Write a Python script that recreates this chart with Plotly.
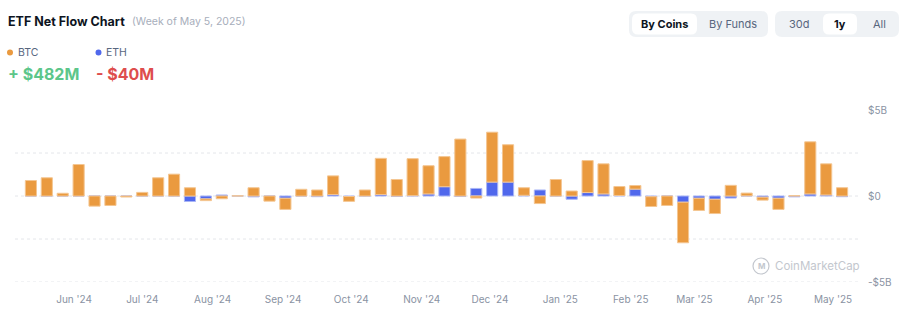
import plotly.graph_objects as go

# ---------------- data ----------------
weeks = [
    "2024-05-13", "2024-05-20", "2024-05-27", "2024-06-03", "2024-06-10", "2024-06-17",
    "2024-06-24", "2024-07-01", "2024-07-08", "2024-07-15", "2024-07-22", "2024-07-29",
    "2024-08-05", "2024-08-12", "2024-08-19", "2024-08-26", "2024-09-02", "2024-09-09",
    "2024-09-16", "2024-09-23", "2024-09-30", "2024-10-07", "2024-10-14", "2024-10-21",
    "2024-10-28", "2024-11-04", "2024-11-11", "2024-11-18", "2024-11-25", "2024-12-02",
    "2024-12-09", "2024-12-16", "2024-12-23", "2024-12-30", "2025-01-06", "2025-01-13",
    "2025-01-20", "2025-01-27", "2025-02-03", "2025-02-10", "2025-02-17", "2025-02-24",
    "2025-03-03", "2025-03-10", "2025-03-17", "2025-03-24", "2025-03-31", "2025-04-07",
    "2025-04-14", "2025-04-21", "2025-04-28", "2025-05-05",
]
# weekly net flows, billions USD
btc_flow = [
    0.90, 1.06, 0.16, 1.83, -0.59, -0.55, -0.06, 0.21, 1.06, 1.27, 0.48, -0.10,
    -0.16, 0.01, 0.48, -0.30, -0.65, 0.39, 0.35, 1.09, -0.28, 0.35, 2.11, 0.96,
    2.15, 1.64, 1.75, 3.31, -0.12, 2.90, 2.17, 0.44, -0.44, 0.96, 0.29, 1.86,
    1.75, 0.52, 0.21, -0.57, -0.55, -2.36, -0.71, -0.83, 0.62, 0.16, -0.17, -0.65,
    0.02, 3.03, 1.81, 0.482,
]
eth_flow = [
    0, 0, 0, 0, 0, 0, 0, 0, 0, 0, -0.32, -0.17,
    0.06, 0, -0.05, 0, -0.13, 0, -0.04, 0.08, -0.03, 0, 0.08, -0.03,
    0.02, 0.12, 0.54, -0.03, 0.44, 0.81, 0.81, 0.04, 0.35, 0, -0.19, 0.20,
    0.12, 0.03, 0.40, -0.04, 0, -0.36, -0.13, -0.19, -0.12, 0.01, -0.07, -0.13,
    -0.05, 0.12, 0.06, -0.04,
]
month_ticks = ["2024-06-01", "2024-07-01", "2024-08-01", "2024-09-01", "2024-10-01",
               "2024-11-01", "2024-12-01", "2025-01-01", "2025-02-01", "2025-03-01",
               "2025-04-01", "2025-05-01"]
y_tickvals = [-5, 0, 5]
y_ticktext = ["-$5B", "$0", "$5B"]
grid_levels = [-5, -2.5, 0, 2.5]

ORANGE = "#EA9A3F"
ORANGE_EDGE = "#F4C692"
BLUE = "#5068EC"
BLUE_EDGE = "#A9B5F6"
FONT = "Inter"

W, H = 910, 323
L, R, T, B = 15, 858, 110, 282


def px(x):
    return (x - L) / (R - L)


def py(y):
    return (B - y) / (B - T)


def rrect(x0, y0, x1, y1, r):
    pts = [("M", [(x0 + r, y0)]), ("L", [(x1 - r, y0)]), ("Q", [(x1, y0), (x1, y0 + r)]),
           ("L", [(x1, y1 - r)]), ("Q", [(x1, y1), (x1 - r, y1)]), ("L", [(x0 + r, y1)]),
           ("Q", [(x0, y1), (x0, y1 - r)]), ("L", [(x0, y0 + r)]), ("Q", [(x0, y0), (x0 + r, y0)])]
    s = ""
    for cmd, ps in pts:
        s += cmd + " " + " ".join(f"{px(a):.5f},{py(b):.5f}" for a, b in ps) + " "
    return s + "Z"


bar_w = 4.9 * 86400000

fig = go.Figure()
fig.add_trace(go.Bar(x=weeks, y=eth_flow, name="ETH", width=bar_w,
                     marker=dict(color=BLUE, line=dict(color=BLUE_EDGE, width=1))))
fig.add_trace(go.Bar(x=weeks, y=btc_flow, name="BTC", width=bar_w,
                     marker=dict(color=ORANGE, line=dict(color=ORANGE_EDGE, width=1))))

shapes = []
for g in grid_levels:
    shapes.append(dict(type="line", xref="paper", yref="y", x0=0, x1=1, y0=g, y1=g,
                       line=dict(color="#E4E6EA", width=1, dash="dot"), layer="below"))

# buttons
shapes.append(dict(type="path", xref="paper", yref="paper", path=rrect(629, 11, 768, 37, 7),
                   fillcolor="#EFF2F5", line=dict(width=0)))
shapes.append(dict(type="path", xref="paper", yref="paper", path=rrect(632, 13.5, 697, 34.5, 6),
                   fillcolor="#FFFFFF", line=dict(width=0)))
shapes.append(dict(type="path", xref="paper", yref="paper", path=rrect(775, 11, 899, 37, 7),
                   fillcolor="#EFF2F5", line=dict(width=0)))
shapes.append(dict(type="path", xref="paper", yref="paper", path=rrect(823, 13.5, 857, 34.5, 6),
                   fillcolor="#FFFFFF", line=dict(width=0)))
# legend dots
for cx, col in [(10, ORANGE), (98.5, BLUE)]:
    shapes.append(dict(type="circle", xref="paper", yref="paper",
                       x0=px(cx - 3), x1=px(cx + 3), y0=py(52.5 + 3), y1=py(52.5 - 3),
                       fillcolor=col, line=dict(width=0)))
# watermark logo circle
shapes.append(dict(type="circle", xref="paper", yref="paper",
                   x0=px(753), x1=px(769), y0=py(274), y1=py(258),
                   fillcolor="rgba(0,0,0,0)", line=dict(color="#C3C7CE", width=1.2)))

ann = []


def text(x, y, s, size, color, anchor="left", bold=False):
    ann.append(dict(xref="paper", yref="paper", x=px(x), y=py(y), text=f"<b>{s}</b>" if bold else s,
                    showarrow=False, xanchor=anchor, yanchor="middle",
                    font=dict(family=FONT, size=size, color=color)))


text(6, 21, "ETF Net Flow Chart", 12.5, "#0D1421", bold=True)
text(130, 21.5, "(Week of May 5, 2025)", 10.5, "#A7AEBB")
text(16, 52.5, "BTC", 10.5, "#58667E")
text(104, 52.5, "ETH", 10.5, "#58667E")
text(6, 73.5, "+ $482M", 16, "#5DC68A", bold=True)
text(94, 73.5, "- $40M", 16, "#DE4D4D", bold=True)
text(664.5, 24, "By Coins", 11, "#0D1421", anchor="center", bold=True)
text(732.5, 24, "By Funds", 11, "#58667E", anchor="center")
text(799, 24, "30d", 11, "#58667E", anchor="center")
text(840, 24, "1y", 11, "#0D1421", anchor="center", bold=True)
text(879, 24, "All", 11, "#58667E", anchor="center")
text(761, 266, "M", 8, "#C3C7CE", anchor="center", bold=True)
text(773, 266, "CoinMarketCap", 11.5, "#C3C7CE")

fig.update_layout(
    width=W, height=H,
    margin=dict(l=L, r=W - R, t=T, b=H - B, pad=0),
    paper_bgcolor="white", plot_bgcolor="white",
    barmode="relative", bargap=0.3,
    showlegend=False,
    font=dict(family=FONT, size=10, color="#8A93A3"),
    shapes=shapes, annotations=ann,
    xaxis=dict(type="date", range=["2024-05-06", "2025-05-12"], tickvals=month_ticks,
               tickformat="%b '%y", showgrid=False, zeroline=False, showline=False,
               ticks="", ticklabelstandoff=10, tickfont=dict(size=10, color="#8A93A3")),
    yaxis=dict(side="right", range=[-5, 5], tickvals=y_tickvals, ticktext=y_ticktext,
               showgrid=False, zeroline=False, showline=False, ticks="",
               ticklabelstandoff=9, tickfont=dict(size=10, color="#8A93A3")),
)

fig.write_html("out.html")
